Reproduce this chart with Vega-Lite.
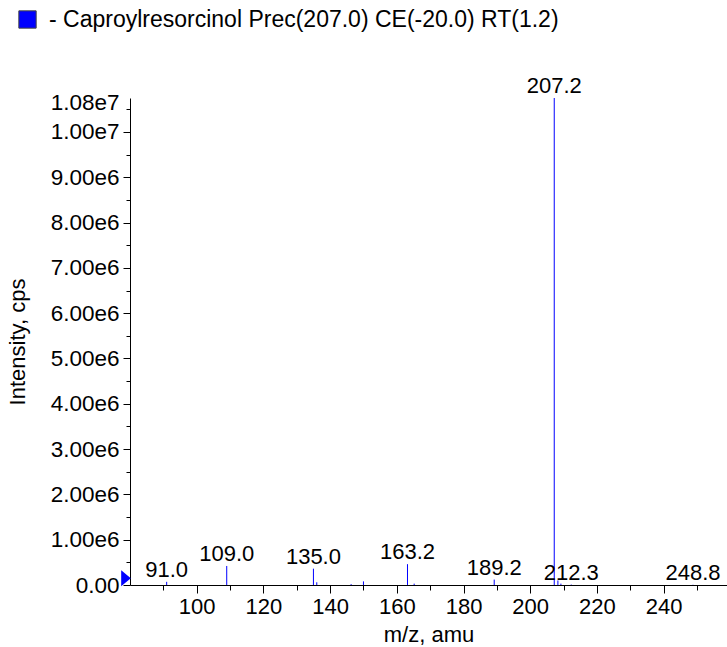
{
  "$schema": "https://vega.github.io/schema/vega-lite/v6.json",
  "width": 597,
  "height": 487,
  "autosize": "none",
  "padding": {"left": 130, "top": 98, "right": 0, "bottom": 62},
  "background": "white",
  "config": {"view": {"stroke": null}, "font": "Liberation Sans"},
  "datasets": {
    "peaks": [
      {"mz": 91.0, "intensity": 70000, "label": "91.0"},
      {"mz": 109.0, "intensity": 420000, "label": "109.0"},
      {"mz": 135.0, "intensity": 360000, "label": "135.0"},
      {"mz": 136.0, "intensity": 60000},
      {"mz": 146.3, "intensity": 20000},
      {"mz": 150.0, "intensity": 80000},
      {"mz": 163.2, "intensity": 460000, "label": "163.2"},
      {"mz": 165.2, "intensity": 30000},
      {"mz": 189.2, "intensity": 120000, "label": "189.2"},
      {"mz": 207.2, "intensity": 10750000, "label": "207.2"},
      {"mz": 208.3, "intensity": 100000},
      {"mz": 209.2, "intensity": 30000},
      {"mz": 212.3, "intensity": 10000, "label": "212.3"},
      {"mz": 248.8, "intensity": 5000, "label": "248.8"}
    ],
    "marker": [
      {"mz": 80, "intensity": 150000, "series": "- Caproylresorcinol Prec(207.0) CE(-20.0) RT(1.2)"}
    ]
  },
  "resolve": {"scale": {"x": "shared", "y": "shared"}, "axis": {"x": "independent", "y": "independent"}},
  "layer": [
    {
      "data": {"name": "peaks"},
      "mark": {"type": "rule", "color": "#0000ff", "strokeWidth": 1},
      "encoding": {
        "x": {
          "field": "mz", "type": "quantitative",
          "scale": {"domain": [80, 259], "nice": false, "zero": false},
          "axis": {
            "orient": "bottom",
            "values": [100, 120, 140, 160, 180, 200, 220, 240],
            "tickSize": 8,
            "labelPadding": 3,
            "labelFontSize": 22,
            "labelColor": "black",
            "labelFont": "Liberation Sans",
            "labelFlush": false,
            "labelOverlap": false,
            "tickColor": "black",
            "domainColor": "black",
            "grid": false,
            "title": "m/z, amu",
            "titleFont": "Liberation Sans",
            "titleFontSize": 22,
            "titleFontWeight": "normal",
            "titleColor": "black",
            "titleY": 56,
            "titleBaseline": "alphabetic"
          }
        },
        "y": {
          "field": "intensity", "type": "quantitative",
          "scale": {"domain": [0, 10750000], "nice": false},
          "axis": {
            "orient": "left",
            "values": [0, 1000000, 2000000, 3000000, 4000000, 5000000, 6000000, 7000000, 8000000, 9000000, 10000000, 10750000],
            "labelExpr": "datum.value == 0 ? '0.00' : replace(format(datum.value, '.2e'), '+', '')",
            "tickSize": 7,
            "tickOpacity": {"condition": {"test": "datum.value == 10750000", "value": 0}, "value": 1},
            "labelOffset": {"condition": {"test": "datum.value == 10750000", "value": 4}, "value": 0},
            "labelPadding": 4,
            "labelFontSize": 22.5,
            "labelColor": "black",
            "labelFont": "Liberation Sans",
            "labelFlush": false,
            "labelOverlap": false,
            "tickColor": "black",
            "domainColor": "black",
            "grid": false,
            "title": "Intensity, cps",
            "titleFont": "Liberation Sans",
            "titleFontSize": 22,
            "titleFontWeight": "normal",
            "titleColor": "black",
            "titleX": -113,
            "titleY": 243.5,
            "titleBaseline": "middle",
            "titleAlign": "center",
            "titleAngle": -90
          }
        },
        "y2": {"datum": 0}
      }
    },
    {
      "data": {"name": "peaks"},
      "transform": [{"filter": "datum.label != null"}],
      "mark": {"type": "text", "fontSize": 22, "baseline": "alphabetic", "dy": -5, "color": "black", "font": "Liberation Sans"},
      "encoding": {
        "x": {
          "field": "mz", "type": "quantitative",
          "axis": {
            "orient": "bottom",
            "values": [90, 110, 130, 150, 170, 190, 210, 230, 250],
            "tickSize": 5,
            "tickColor": "black",
            "labels": false,
            "domain": false,
            "grid": false,
            "title": null
          }
        },
        "y": {
          "field": "intensity", "type": "quantitative",
          "axis": {
            "orient": "left",
            "values": [500000, 1500000, 2500000, 3500000, 4500000, 5500000, 6500000, 7500000, 8500000, 9500000, 10500000],
            "tickSize": 4,
            "tickColor": "black",
            "labels": false,
            "domain": false,
            "grid": false,
            "title": null
          }
        },
        "text": {"field": "label"}
      }
    },
    {
      "data": {"name": "marker"},
      "mark": {"type": "point", "shape": "M-0.6,-1L0.6,0L-0.6,1Z", "filled": true, "size": 256, "opacity": 1, "xOffset": -4},
      "encoding": {
        "x": {"field": "mz", "type": "quantitative", "axis": null},
        "y": {"field": "intensity", "type": "quantitative", "axis": null},
        "fill": {
          "field": "series", "type": "nominal",
          "scale": {"range": ["#0000ff"]},
          "legend": {
            "orient": "none",
            "legendX": -114,
            "legendY": -90,
            "title": null,
            "padding": 0,
            "symbolType": "square",
            "symbolSize": 300,
            "symbolFillColor": "#0000ff",
            "symbolStrokeColor": "#444444",
            "symbolStrokeWidth": 1,
            "symbolOpacity": 1,
            "labelFontSize": 23,
            "labelFont": "Liberation Sans",
            "labelColor": "black",
            "labelOffset": 10,
            "labelLimit": 1000
          }
        }
      }
    }
  ]
}
